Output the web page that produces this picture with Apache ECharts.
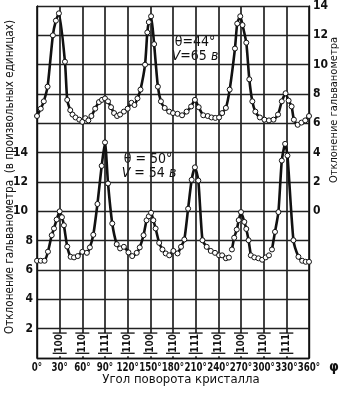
<!DOCTYPE html>
<html>
<head>
<meta charset="utf-8">
<script src="https://cdn.jsdelivr.net/npm/echarts@6/dist/echarts.min.js"></script>
<style>
  html, body { margin: 0; padding: 0; background: #fff; }
  #chart { width: 345px; height: 397px; }
</style>
</head>
<body>
<div id="chart"></div>
<script>
// Rotation angle of the crystal, degrees, and galvanometer deflection.
// Upper curve: θ = 44°, V = 65 в (read on the right-hand scale).
const upperCurve = [
  [0, 6.5], [5, 7.0], [9, 7.5], [14, 8.5], [21, 12.0], [25, 13.0], [29, 13.5],
  [37, 10.2], [40, 7.6], [44, 6.9], [47, 6.6], [51, 6.4], [56, 6.25], [60, 6.1],
  [64, 6.35], [68, 6.2], [72, 6.5], [77, 7.0], [82, 7.45], [86, 7.6], [90, 7.7],
  [94, 7.5], [98, 7.1], [102, 6.7], [106, 6.5], [110, 6.6], [115, 6.8], [120, 7.0],
  [125, 7.4], [129, 7.25], [133, 7.7], [137, 8.3], [143, 10.0], [146, 12.2],
  [148, 12.9], [151, 13.3], [155, 11.4], [160, 8.5], [164, 7.5], [169, 7.05],
  [175, 6.8], [180, 6.7], [186, 6.65], [192, 6.55], [198, 6.8], [204, 7.15],
  [209, 7.6], [214, 7.1], [220, 6.55], [226, 6.5], [231, 6.4], [236, 6.37],
  [241, 6.4], [245, 6.7], [250, 7.05], [255, 8.3], [262, 11.1], [265, 12.8],
  [269, 13.3], [272, 12.7], [277, 11.5], [281, 9.0], [285, 7.5], [289, 6.8],
  [295, 6.4], [301, 6.25], [307, 6.2], [313, 6.25], [319, 6.6], [324, 7.5],
  [329, 8.05], [333, 7.55], [337, 7.15], [340, 6.25], [345, 5.9], [350, 6.05],
  [355, 6.2], [360, 6.5]
];

// Lower curve: θ = 50°, V = 54 в (read on the left-hand scale); null = break in the line.
const lowerCurve = [
  [0, 6.63], [5, 6.63], [10, 6.63], [14.5, 7.25], [19.5, 8.37], [22.5, 8.83],
  [26, 9.44], [30, 10.0], [33, 9.6], [35.6, 9.05], [40, 7.6], [44.5, 6.9],
  [49, 6.86], [54, 6.95], [60, 7.24], [66, 7.17], [70, 7.54], [74.5, 8.4],
  [80, 10.5], [85.6, 13.1], [90, 14.7], [94, 11.9], [99.6, 9.17], [105.5, 7.76],
  [110, 7.47], [115, 7.58], [121, 7.2], [126, 6.95], [132, 7.17], [136, 7.54],
  [141, 8.37], [145, 9.39], [148, 9.66], [151, 9.9], [154, 9.39], [157, 8.83],
  [161.7, 7.85], [166, 7.4], [170.4, 7.13], [175, 7.0], [180.5, 7.3], [186, 7.13],
  [190.6, 7.58], [195, 8.08], [200, 10.18], [204.7, 12.15], [209, 13.0],
  [213.5, 12.1], [219, 8.03], [224.6, 7.58], [230, 7.3], [235.6, 7.17], [241, 7.0],
  [245, 7.0], [250, 6.8], [254, 6.85], null, [258, 7.4], [261, 8.2], [264.4, 8.76],
  [267, 9.4], [270, 9.95], [274.4, 9.28], [277, 8.8], [280, 8.03], [283, 7.0], null,
  [287.6, 6.86], [293, 6.8], [298, 6.7], [302.7, 6.86], [307, 7.0], null,
  [311, 7.4], [315, 8.6], [319.5, 9.95], [324, 13.46], [328.4, 14.6],
  [331.5, 13.8], [339.4, 8.03], [346, 6.9], [351, 6.63], [355.6, 6.56], [360, 6.56]
];

// Crystal directions marked under the peaks.
const millerAngles = [30, 60, 90, 120, 150, 180, 210, 240, 270, 300, 330];
const millerLabels = ['100', '110', '111', '110', '100', '110', '111', '110', '100', '110', '111'];

// Scale labels printed along each axis.
const xTickLabels = [0, 30, 60, 90, 120, 150, 180, 210, 240, 270, 300, 330, 360];
const leftTickLabels = [2, 4, 6, 8, 10, 12, 14];
const rightTickLabels = [0, 2, 4, 6, 8, 10, 12, 14];

const FONT = '"Liberation Sans Narrow", "DejaVu Sans Condensed", "DejaVu Sans", sans-serif';
const INK = '#111';
const RULE = '#222';

const toSeries = arr => arr.map(p => (p === null ? [null, null] : p));

const chart = echarts.init(document.getElementById('chart'));

const lineStyleCommon = {
  type: 'line',
  symbol: 'circle',
  symbolSize: 5,
  showAllSymbol: true,
  smooth: 0.2,
  connectNulls: false,
  lineStyle: { color: INK, width: 2.6 },
  itemStyle: { color: '#fff', borderColor: INK, borderWidth: 1 },
  silent: true,
  z: 3
};

chart.setOption({
  backgroundColor: '#fff',
  animation: false,
  grid: { left: 37, right: 36, top: 3, bottom: 39 },
  xAxis: {
    type: 'value', min: 0, max: 360, interval: 30,
    axisLine: { show: true, lineStyle: { color: INK, width: 1.4 } },
    axisTick: { show: false },
    axisLabel: { show: false },
    splitLine: { show: true, lineStyle: { color: RULE, width: 1.7 } }
  },
  yAxis: [
    {
      type: 'value', min: 0, max: 24, interval: 2, position: 'left',
      axisLine: { show: true, lineStyle: { color: INK, width: 1.4 } },
      axisTick: { show: false },
      axisLabel: {
        color: INK, fontFamily: FONT, fontSize: 12, fontWeight: 'bold', margin: 4,
        formatter: v => leftTickLabels.includes(v) ? (v >= 10 ? '{w|' + v + '}' : String(v)) : '',
        rich: { w: { padding: [0, 5, 0, 0], fontFamily: FONT, fontSize: 12, fontWeight: 'bold', color: INK } }
      },
      splitLine: { show: true, lineStyle: { color: RULE, width: 1.4 } }
    },
    {
      type: 'value', min: -10, max: 14, interval: 2, position: 'right',
      axisLine: { show: true, lineStyle: { color: INK, width: 1.4 } },
      axisTick: { show: false },
      axisLabel: {
        color: INK, fontFamily: FONT, fontSize: 12, fontWeight: 'bold', margin: 4,
        formatter: v => rightTickLabels.includes(v) ? String(v) : ''
      },
      splitLine: { show: false }
    }
  ],
  series: [
    Object.assign({}, lineStyleCommon, { name: 'θ=50°', yAxisIndex: 0, data: toSeries(lowerCurve) }),
    Object.assign({}, lineStyleCommon, { name: 'θ=44°', yAxisIndex: 1, data: toSeries(upperCurve) }),
    {
      // direction labels with their bars under each peak
      type: 'custom',
      yAxisIndex: 0,
      silent: true,
      clip: false,
      z: 4,
      data: millerAngles.map(a => [a, 1]),
      renderItem: (params, api) => {
        const phi = api.value(0);
        const top = api.coord([phi, 1.7]);
        const bot = api.coord([phi, 0.32]);
        const base = api.coord([phi, 0.12]);
        const mid = api.coord([phi, 1.0]);
        const half = 7;
        return {
          type: 'group',
          children: [
            { type: 'rect', shape: { x: top[0] - half, y: top[1], width: half * 2, height: base[1] - top[1] },
              style: { fill: '#fff' } },
            { type: 'line', shape: { x1: top[0] - half, y1: top[1], x2: top[0] + half, y2: top[1] },
              style: { stroke: INK, lineWidth: 1.3 } },
            { type: 'line', shape: { x1: bot[0] - half, y1: bot[1], x2: bot[0] + half, y2: bot[1] },
              style: { stroke: INK, lineWidth: 1.3 } },
            { type: 'text', x: mid[0], y: mid[1], rotation: Math.PI / 2,
              style: { text: millerLabels[params.dataIndex], align: 'center', verticalAlign: 'middle',
                       font: 'bold 10px ' + FONT, fill: INK } }
          ]
        };
      }
    },
    {
      // angle labels under the axis, drawn condensed
      type: 'custom',
      yAxisIndex: 0,
      silent: true,
      clip: false,
      z: 4,
      data: xTickLabels.map(a => [a, 0]),
      renderItem: (params, api) => {
        const p = api.coord([api.value(0), 0]);
        return { type: 'text', x: p[0], y: p[1] + 10, scaleX: 0.8,
                 style: { text: xTickLabels[params.dataIndex] + '°', align: 'center', verticalAlign: 'middle',
                          font: 'bold 12px ' + FONT, fill: INK } };
      }
    }
  ],
  graphic: [
    { type: 'text', x: 10, y: 177, rotation: Math.PI / 2, silent: true,
      style: { text: 'Отклонение гальванометра  (в произвольных единицах)', align: 'center',
               verticalAlign: 'middle', font: '11.6px ' + FONT, fill: INK } },
    { type: 'text', x: 334, y: 110, rotation: Math.PI / 2, silent: true,
      style: { text: 'Отклонение гальванометра', align: 'center', verticalAlign: 'middle',
               font: '11px ' + FONT, fill: INK } },
    { type: 'text', x: 181, y: 380, silent: true,
      style: { text: 'Угол поворота кристалла', align: 'center', verticalAlign: 'middle',
               font: '13px ' + FONT, fill: INK } },
    { type: 'text', x: 334, y: 367, silent: true,
      style: { text: 'φ', align: 'center', verticalAlign: 'middle', font: 'bold 14px ' + FONT, fill: INK } },
    { type: 'text', x: 195, y: 42, silent: true,
      style: { text: 'θ=44°', align: 'center', verticalAlign: 'middle', font: '14px ' + FONT, fill: INK } },
    { type: 'text', x: 195, y: 56, silent: true,
      style: { text: '{i|V}=65 {i|в}', align: 'center', verticalAlign: 'middle', font: '14px ' + FONT, fill: INK,
               rich: { i: { fontStyle: 'italic', fontFamily: FONT, fontSize: 14, color: INK } } } },
    { type: 'text', x: 148, y: 159, silent: true,
      style: { text: 'θ = 50°', align: 'center', verticalAlign: 'middle', font: '14px ' + FONT, fill: INK } },
    { type: 'text', x: 149, y: 173, silent: true,
      style: { text: '{i|V} = 54 {i|в}', align: 'center', verticalAlign: 'middle', font: '14px ' + FONT, fill: INK,
               rich: { i: { fontStyle: 'italic', fontFamily: FONT, fontSize: 14, color: INK } } } }
  ]
});
</script>
</body>
</html>
